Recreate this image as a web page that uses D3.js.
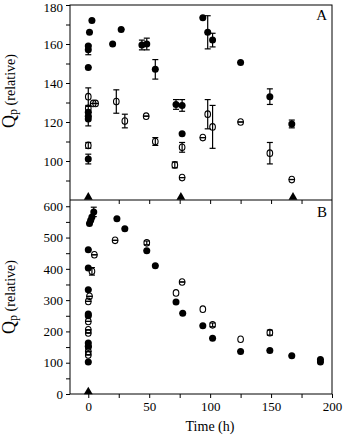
<!DOCTYPE html>
<html><head><meta charset="utf-8">
<script src="https://cdn.jsdelivr.net/npm/d3@7"></script>
<style>body{margin:0;background:#fff}svg{display:block}</style>
</head><body>
<svg id="c" width="347" height="438"></svg>
<script>
// ---- data ----
const xTicks = [0, 25, 50, 75, 100, 125, 150, 175, 200];
const xTickLabels = [0, 50, 100, 150, 200];
const yTicksA = [90, 100, 110, 120, 130, 140, 150, 160, 170, 180];
const yTickLabelsA = [100, 120, 140, 160, 180];
const yTicksB = [0, 50, 100, 150, 200, 250, 300, 350, 400, 450, 500, 550, 600];
const yTickLabelsB = [0, 100, 200, 300, 400, 500, 600];

// Panel A
const aFilledTime  = [3, 1, 0, 0, 0, 0, 0, 0, 0, 20, 27, 44, 48, 55, 72, 77, 77, 94, 98, 102, 125, 149, 167];
const aFilledValue = [172, 166, 159, 157, 148, 125, 123, 121.5, 101, 160, 167.5, 159.5, 160, 147, 129, 128.5, 114, 173.5, 166, 162, 150.5, 133, 119];
const aFilledErr   = [0, 0, 0, 2.5, 0, 0, 0, 3.5, 2.5, 0, 0, 2.5, 3, 5, 2.5, 3, 0, 0, 8.5, 3.5, 0, 4, 2];
const aOpenTime  = [0, 0, 4, 6, 0, 23, 30, 47.5, 55, 71, 77, 77, 94, 98, 102, 125, 149, 167];
const aOpenValue = [133, 127, 129.5, 129.5, 108, 130.5, 120.5, 123, 110, 98, 107, 91.5, 112, 124, 117.5, 120, 104, 90.5];
const aOpenErr   = [4.5, 1, 0, 0, 1.5, 6, 3.5, 0, 2, 1.5, 2.5, 0, 0, 7.5, 11, 0, 5.5, 0];
const aTriTime  = [0, 76, 168];
const aTriValue = [81.5, 81.5, 81.5];

// Panel B
const bFilledTime  = [4.5, 3, 2, 1, 0, 0, 0, 0, 0, 0, 0, 0, 23.5, 30, 48, 55, 72, 77.5, 94, 102, 125, 149, 167, 190.5, 190.5];
const bFilledValue = [582, 566, 555, 545, 461, 403, 333, 256, 250, 163, 153, 102, 560, 528, 458, 410, 294, 258, 218, 178, 136, 139, 122, 110, 102];
const bFilledErr   = [15, 0, 0, 0, 0, 0, 0, 0, 0, 0, 0, 0, 0, 0, 0, 0, 0, 0, 0, 0, 0, 0, 0, 0, 0];
const bOpenTime  = [5, 3, 1, 0, 0, 0, 0, 0, 0, 0, 22, 48, 72, 77, 94, 102, 125, 149];
const bOpenValue = [445, 392, 312, 296, 232, 205, 195, 150, 136, 125, 491, 483, 323, 358, 271, 221, 175, 196];
const bOpenErr   = [0, 12, 0, 0, 0, 0, 0, 0, 0, 0, 0, 6, -1, 0, -1, 6, -1, 8];
const bTriTime  = [0];
const bTriValue = [7];

// ---- layout ----
const svg = d3.select("#c");
const L = 70, R = 332, TA = 5, MID = 200, BB = 394;
const font = "Liberation Serif, Times New Roman, serif";

const x = d3.scaleLinear().domain([-15, 200]).range([L, R]);
const yA = d3.scaleLinear().domain([80, 180]).range([MID, TA]);
const yB = d3.scaleLinear().domain([0, 620]).range([BB, MID]);

// frame
svg.append("rect").attr("x", L).attr("y", TA).attr("width", R - L).attr("height", BB - TA)
  .attr("fill", "none").attr("stroke", "#000").attr("stroke-width", 1);
svg.append("line").attr("x1", L).attr("x2", R).attr("y1", MID).attr("y2", MID).attr("stroke", "#000");

function styleAxis(g) {
  g.select(".domain").remove();
  g.selectAll("line").attr("stroke", "#000");
  g.selectAll("text").attr("font-family", font).attr("font-size", 13).attr("fill", "#000");
}

// y axes
const gA = svg.append("g").attr("transform", `translate(${L},0)`)
  .call(d3.axisLeft(yA).tickValues(yTicksA).tickSize(4)
    .tickFormat(d => yTickLabelsA.includes(d) ? d : "")).call(styleAxis);
gA.selectAll(".tick").filter(d => d === 180).select("text").attr("y", 2.5);
svg.append("g").attr("transform", `translate(${L},0)`)
  .call(d3.axisLeft(yB).tickValues(yTicksB).tickSize(4)
    .tickFormat(d => yTickLabelsB.includes(d) ? d : "")).call(styleAxis);

// x axes
svg.append("g").attr("transform", `translate(0,${BB})`)
  .call(d3.axisBottom(x).tickValues(xTicks).tickSize(4).tickPadding(4)
    .tickFormat(d => xTickLabels.includes(d) ? d : "")).call(styleAxis);
svg.append("g").attr("transform", `translate(0,${MID})`)
  .call(d3.axisBottom(x).tickValues(xTicks.filter(d => d > 0 && d < 200)).tickSize(4)
    .tickFormat("")).call(styleAxis);

// labels
svg.append("text").attr("x", 210).attr("y", 431).attr("text-anchor", "middle")
  .attr("font-family", font).attr("font-size", 14).text("Time (h)");

function yLabel(cy) {
  const t = svg.append("text").attr("transform", `translate(15,${cy}) rotate(-90)`)
    .attr("text-anchor", "middle").attr("font-family", font).attr("font-size", 14);
  t.append("tspan").attr("font-size", 18).text("Q");
  t.append("tspan").attr("font-size", 12).attr("dy", 2).text("p");
  t.append("tspan").attr("dy", -2).text(" (relative)");
}
yLabel(91);
yLabel(297);

svg.append("text").attr("x", 327).attr("y", 20).attr("text-anchor", "end")
  .attr("font-family", font).attr("font-size", 15).text("A");
svg.append("text").attr("x", 327).attr("y", 217).attr("text-anchor", "end")
  .attr("font-family", font).attr("font-size", 15).text("B");

// ---- marks ----
function drawSeries(times, values, errs, y, filled) {
  const data = times.map((t, i) => ({ t, v: values[i], e: errs[i] }));
  const g = svg.append("g");
  const eb = data.filter(d => d.e >= 0);
  const capW = 3;
  g.selectAll(".ev").data(eb).join("line")
    .attr("x1", d => x(d.t)).attr("x2", d => x(d.t))
    .attr("y1", d => y(d.v - d.e)).attr("y2", d => y(d.v + d.e))
    .attr("stroke", "#000").attr("stroke-width", 1.2);
  g.selectAll(".et").data(eb).join("line")
    .attr("x1", d => x(d.t) - capW).attr("x2", d => x(d.t) + capW)
    .attr("y1", d => y(d.v + d.e)).attr("y2", d => y(d.v + d.e))
    .attr("stroke", "#000").attr("stroke-width", 1.2);
  g.selectAll(".eb").data(eb).join("line")
    .attr("x1", d => x(d.t) - capW).attr("x2", d => x(d.t) + capW)
    .attr("y1", d => y(d.v - d.e)).attr("y2", d => y(d.v - d.e))
    .attr("stroke", "#000").attr("stroke-width", 1.2);
  if (filled) {
    g.selectAll("circle").data(data).join("circle")
      .attr("cx", d => x(d.t)).attr("cy", d => y(d.v)).attr("r", 3.5)
      .attr("fill", "#000");
  } else {
    g.selectAll("ellipse").data(data).join("ellipse")
      .attr("cx", d => x(d.t)).attr("cy", d => y(d.v)).attr("rx", 2.8).attr("ry", 3.3)
      .attr("fill", "none").attr("stroke", "#000").attr("stroke-width", 1.1);
  }
}
function drawTri(times, values, y) {
  const sym = d3.symbol().type(d3.symbolTriangle).size(34);
  svg.append("g").selectAll("path").data(times.map((t, i) => ({ t, v: values[i] }))).join("path")
    .attr("transform", d => `translate(${x(d.t)},${y(d.v)})`).attr("d", sym).attr("fill", "#000");
}

drawSeries(aOpenTime, aOpenValue, aOpenErr, yA, false);
drawSeries(aFilledTime, aFilledValue, aFilledErr, yA, true);
drawTri(aTriTime, aTriValue, yA);
drawSeries(bOpenTime, bOpenValue, bOpenErr, yB, false);
drawSeries(bFilledTime, bFilledValue, bFilledErr, yB, true);
drawTri(bTriTime, bTriValue, yB);
</script>
</body></html>
